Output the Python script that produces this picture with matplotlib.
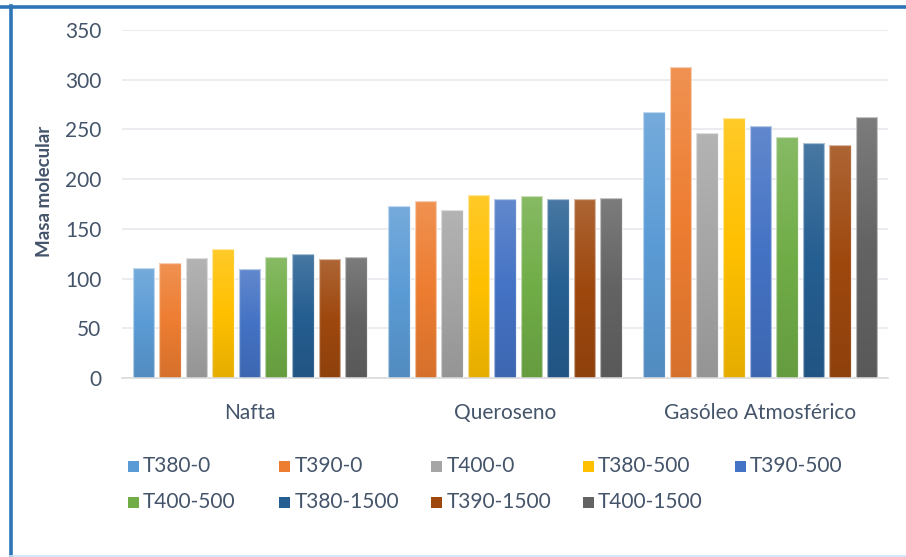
import numpy as np
import matplotlib
matplotlib.use("Agg")
import matplotlib.pyplot as plt
from matplotlib.colors import LinearSegmentedColormap, to_rgb
from matplotlib.patches import Rectangle
from matplotlib.lines import Line2D

# Data
categories = ["Nafta", "Queroseno", "Gasóleo Atmosférico"]
series_names = ["T380-0", "T390-0", "T400-0", "T380-500", "T390-500",
                "T400-500", "T380-1500", "T390-1500", "T400-1500"]
nafta = [110.5, 115.5, 120.5, 129.5, 109.5, 121.5, 124.5, 119.5, 121.5]
queroseno = [172.5, 178.5, 169.0, 184.5, 180.5, 183.5, 180.0, 180.5, 181.0]
gasoleo = [268.0, 312.5, 246.0, 261.5, 253.5, 242.0, 236.0, 234.0, 262.5]
y_ticks = [0, 50, 100, 150, 200, 250, 300, 350]

colors = ["#5B9BD5", "#ED7D31", "#A5A5A5", "#FFC000", "#4472C4",
          "#70AD47", "#255E91", "#9E480E", "#636363"]

TEXT = "#44546A"
FONT = "Lato"

W, H = 906, 557
fig = plt.figure(figsize=(W / 100, H / 100), dpi=100)
fig.patch.set_facecolor("white")

ax = fig.add_axes([122 / W, 1 - 378 / H, 766 / W, 348 / H])
ax.set_facecolor("white")

values = np.array([nafta, queroseno, gasoleo])  # shape (cat, series)
x = np.arange(len(categories))
n = len(series_names)
pitch = 0.104
width = 0.0848


def blend(c, other, t):
    c = np.array(to_rgb(c))
    o = np.array(to_rgb(other))
    return tuple(c * (1 - t) + o * t)


grad = np.linspace(0, 1, 256).reshape(-1, 1)
for i, (name, col) in enumerate(zip(series_names, colors)):
    offs = (i - (n - 1) / 2) * pitch
    bars = ax.bar(x + offs, values[:, i], width=width, color=col,
                  edgecolor=(1, 1, 1, 0.55), linewidth=0.9, zorder=2,
                  label=name)
    cmap = LinearSegmentedColormap.from_list(
        name, [blend(col, "black", 0.10), col, blend(col, "white", 0.16)])
    for b in bars:
        x0, y0 = b.get_x(), b.get_y()
        w, h = b.get_width(), b.get_height()
        im = ax.imshow(grad, cmap=cmap, origin="lower", aspect="auto",
                       extent=[x0, x0 + w, y0, y0 + h], zorder=2.5,
                       interpolation="bilinear")
        im.set_clip_path(b)
    for b in bars:
        ax.add_patch(Rectangle((b.get_x(), b.get_y()), b.get_width(),
                               b.get_height(), fill=False,
                               edgecolor=(1, 1, 1, 0.55), linewidth=0.9,
                               zorder=3))

ax.set_xlim(-0.5, len(categories) - 0.5)
ax.set_ylim(0, 350)
ax.set_yticks(y_ticks)
ax.set_xticks(x)
ax.set_xticklabels(categories)
ax.tick_params(axis="both", length=0, labelsize=15, labelcolor=TEXT)
ax.tick_params(axis="y", pad=15)
ax.tick_params(axis="x", pad=18)
for lbl in ax.get_xticklabels() + ax.get_yticklabels():
    lbl.set_family(FONT)

ax.yaxis.grid(True, color="#E4E7EC", linewidth=1.1, zorder=0)
ax.set_axisbelow(True)
for side in ("top", "right", "left"):
    ax.spines[side].set_visible(False)
ax.spines["bottom"].set_color("#D9D9D9")
ax.spines["bottom"].set_linewidth(1.1)

fig.text(45 / W, 1 - 191 / H, "Masa molecular", rotation=90, ha="center",
         va="center", fontsize=13.5, fontweight="bold", color=TEXT,
         family=FONT)

# Legend: five equal-width columns, two rows
col_x = 133
col_step = 151.75
row_y = [466, 502]
for i, (name, col) in enumerate(zip(series_names, colors)):
    r, c = divmod(i, 5)
    cx = col_x + c * col_step
    cy = row_y[r]
    fig.patches.append(Rectangle(((cx - 5.5) / W, 1 - (cy + 5.5) / H),
                                 11 / W, 11 / H, transform=fig.transFigure,
                                 facecolor=col, edgecolor="none"))
    fig.text((cx + 10) / W, 1 - cy / H, name, ha="left", va="center",
             fontsize=15, color=TEXT, family=FONT)

# Frame around the chart
fig.add_artist(Line2D([0, 1], [1 - 7 / H, 1 - 7 / H], color="#2E75B6",
                      linewidth=2.6, transform=fig.transFigure))
fig.add_artist(Line2D([10.5 / W, 10.5 / W], [1 - 6 / H, 0], color="#2E75B6",
                      linewidth=2.6, transform=fig.transFigure))
fig.add_artist(Line2D([10 / W, 1], [1.5 / H, 1.5 / H], color="#CFE2F3",
                      linewidth=1.2, transform=fig.transFigure))

fig.savefig("out.png", dpi=100, facecolor="white")
